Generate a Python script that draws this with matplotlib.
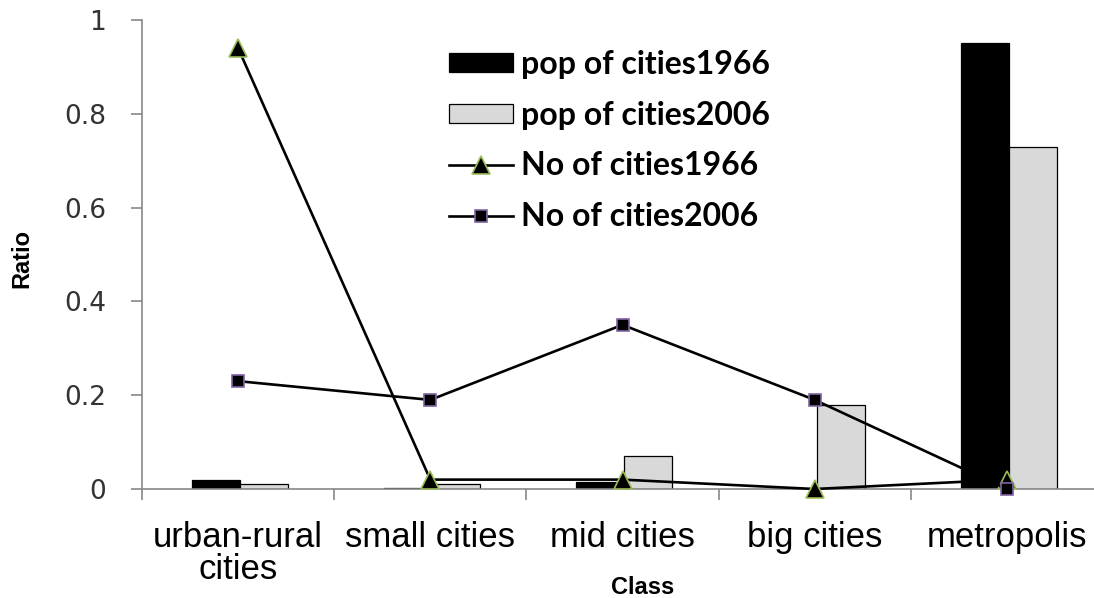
import numpy as np
import matplotlib
matplotlib.use("Agg")
import matplotlib.pyplot as plt
from matplotlib.ticker import FixedLocator

# city classes and ratios
classes = ["urban-rural\ncities", "small cities", "mid cities", "big cities", "metropolis"]
pop_1966 = [0.02, 0.003, 0.015, 0.0, 0.95]
pop_2006 = [0.01, 0.01, 0.07, 0.18, 0.73]
num_1966 = [0.94, 0.02, 0.02, 0.0, 0.02]
num_2006 = [0.23, 0.19, 0.35, 0.19, 0.0]
y_ticks = [0, 0.2, 0.4, 0.6, 0.8, 1]
y_tick_labels = ["0", "0.2", "0.4", "0.6", "0.8", "1"]

W, H = 1094, 598
fig = plt.figure(figsize=(W / 100, H / 100), dpi=100)
# axes spans one category width past the right edge of the figure
ax = fig.add_axes([142 / W, (H - 489) / H, (1103 - 142) / W, (489 - 20) / H])

x = np.arange(len(classes))
bw = 0.25
axis_grey = "#878787"

b1 = ax.bar(x - bw / 2 + 0.01, pop_1966, width=bw, color="black", edgecolor="black",
            linewidth=0.9, label="pop of cities1966", zorder=2)
b2 = ax.bar(x + bw / 2 + 0.01, pop_2006, width=bw, color="#d9d9d9", edgecolor="black",
            linewidth=0.9, label="pop of cities2006", zorder=2)
l1, = ax.plot(x, num_1966, color="black", linewidth=1.9, marker="^", markersize=13,
              markerfacecolor="black", markeredgecolor="#9bbb59", markeredgewidth=1.2,
              label="No of cities1966", zorder=3, clip_on=False)
l2, = ax.plot(x, num_2006, color="black", linewidth=1.9, marker="s", markersize=9,
              markerfacecolor="black", markeredgecolor="#8064a2", markeredgewidth=1.2,
              label="No of cities2006", zorder=3, clip_on=False)

ax.set_xlim(-0.5, 4.5)
ax.set_ylim(0, 1)

for side in ["top", "right"]:
    ax.spines[side].set_visible(False)
for side in ["left", "bottom"]:
    ax.spines[side].set_color(axis_grey)
    ax.spines[side].set_linewidth(1.2)

ax.set_yticks(y_ticks)
ax.set_yticklabels(y_tick_labels, fontsize=19, color="#333333", family="DejaVu Sans")
ax.tick_params(axis="y", length=8, width=1.2, color=axis_grey, pad=18)

ax.set_xticks(x)
ax.set_xticklabels(classes, fontsize=25, family="Liberation Sans", color="black")
ax.tick_params(axis="x", which="major", length=0, pad=23)
ax.xaxis.set_minor_locator(FixedLocator(np.arange(-0.5, 4.0, 1.0)))
ax.tick_params(axis="x", which="minor", length=8, width=1.2, color=axis_grey)
for lbl in ax.get_xticklabels():
    lbl.set_multialignment("center")
    lbl.set_linespacing(0.95)

fig.text(643 / W, 1 - 588 / H, "Class", ha="center", va="center",
         fontsize=17, fontweight="bold", family="Liberation Sans")
fig.text(22 / W, 1 - 259 / H, "Ratio", ha="center", va="center", rotation=90,
         fontsize=17, fontweight="bold", family="Liberation Sans")

ax.legend([b1, b2, l1, l2],
          ["pop of cities1966", "pop of cities2006", "No of cities1966", "No of cities2006"],
          loc="upper left", bbox_to_anchor=(449 / W, 1 - 50 / H),
          bbox_transform=fig.transFigure, frameon=False,
          prop={"family": ["Lato", "DejaVu Sans"], "weight": "bold", "size": 23},
          handlelength=2.0, handleheight=0.55, handletextpad=0.25,
          labelspacing=0.68, borderpad=0, borderaxespad=0)

fig.savefig("out.png", dpi=100)
